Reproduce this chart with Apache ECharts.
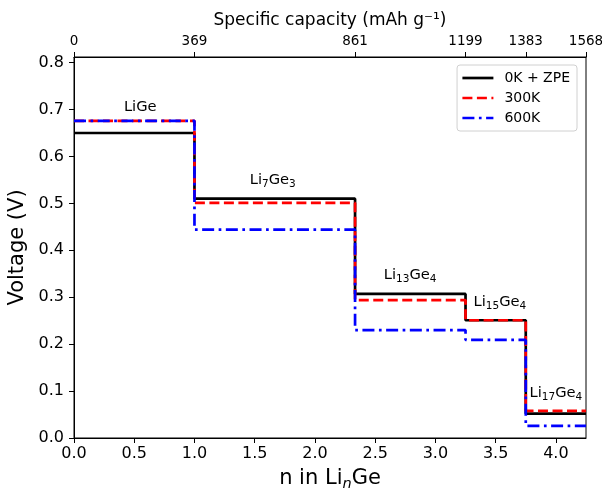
<!DOCTYPE html>
<html><head><meta charset="utf-8">
<script src="https://cdn.jsdelivr.net/npm/echarts@6/dist/echarts.min.js"></script>
<style>html,body{margin:0;padding:0;background:#fff}#c{width:602px;height:489px}</style>
</head><body><div id="c"></div>
<script>
// Boundaries of n (x in Li_nGe)
const nBounds = [0, 1, 2.333, 3.25, 3.75, 4.25];
const phases = ['LiGe', 'Li7Ge3', 'Li13Ge4', 'Li15Ge4', 'Li17Ge4'];
const v0K = [0.650, 0.510, 0.307, 0.251, 0.052];
const v300K = [0.676, 0.501, 0.294, 0.251, 0.058];
const v600K = [0.676, 0.444, 0.230, 0.209, 0.026];
const capTicks = [0, 369, 861, 1199, 1383, 1568];
const xTicks = [0, 0.5, 1, 1.5, 2, 2.5, 3, 3.5, 4];
const yTicks = [0, 0.1, 0.2, 0.3, 0.4, 0.5, 0.6, 0.7, 0.8];
// label anchor positions (n, V) for phase names
const labelPos = [[0.55, 0.706], [1.65, 0.55], [2.79, 0.348], [3.535, 0.29], [4.0, 0.096]];
const labelRich = ['LiGe', 'Li{s|7}Ge{s|3}', 'Li{s|13}Ge{s|4}', 'Li{s|15}Ge{s|4}', 'Li{s|17}Ge{s|4}'];

function stepData(vals) {
  const d = [];
  for (let i = 0; i < vals.length; i++) d.push([nBounds[i], vals[i]]);
  d.push([nBounds[nBounds.length - 1], vals[vals.length - 1]]);
  return d;
}
const FONT = 'DejaVu Sans';
const TICKC = '#000';
const chart = echarts.init(document.getElementById('c'));
chart.setOption({
  animation: false,
  textStyle: {fontFamily: FONT},
  grid: {left: 74, right: 16, top: 57, bottom: 51, show: true, borderColor: '#000', borderWidth: 1,
    containLabel: false, outerBoundsMode: 'none'},
  legend: {
    right: 25, top: 65, orient: 'vertical', itemWidth: 31, itemHeight: 14, itemGap: 6,
    borderColor: '#d0d0d0', borderWidth: 1, borderRadius: 3, padding: [6, 7, 6, 4],
    itemStyle: {opacity: 0},
    lineStyle: {width: 2.7},
    textStyle: {fontFamily: FONT, fontSize: 14, color: '#000', padding: [0, 0, 0, 6]},
    data: [{name: '0K + ZPE'}, {name: '300K'}, {name: '600K'}]
  },
  xAxis: [{
    type: 'value', min: 0, max: 4.25, position: 'bottom',
    name: '{a|n in Li}{s|n}{a|Ge}', nameLocation: 'middle', nameGap: 27,
    nameTextStyle: {rich: {a: {fontSize: 21, color: '#000', fontFamily: FONT}, s: {fontSize: 14.5, fontStyle: 'italic', color: '#000', fontFamily: FONT, padding: [12, 0, 0, 0]}}},
    axisLine: {show: true, lineStyle: {color: '#000', width: 1}},
    axisTick: {show: true, length: 5, lineStyle: {color: '#000'}, customValues: xTicks},
    axisLabel: {color: TICKC, fontSize: 16, fontFamily: FONT, margin: 8, customValues: xTicks, formatter: v => v.toFixed(1)},
    splitLine: {show: false}
  }, {
    type: 'value', min: 0, max: 4.25, position: 'top',
    name: 'Specific capacity (mAh g\u207B\u00B9)', nameLocation: 'middle', nameGap: 26,
    nameTextStyle: {fontSize: 17, color: '#000', fontFamily: FONT},
    axisLine: {show: true, lineStyle: {color: '#000', width: 1}},
    axisTick: {show: true, length: 5, lineStyle: {color: '#000'}, customValues: nBounds},
    axisLabel: {color: TICKC, fontSize: 13.5, fontFamily: FONT, margin: 9, customValues: nBounds,
      formatter: v => { const i = nBounds.findIndex(b => Math.abs(b - v) < 1e-6); return i >= 0 ? String(capTicks[i]) : ''; }},
    splitLine: {show: false}
  }],
  yAxis: {
    type: 'value', min: 0, max: 0.812,
    name: 'Voltage (V)', nameLocation: 'middle', nameGap: 45,
    nameTextStyle: {fontSize: 21, color: '#000', fontFamily: FONT},
    axisLine: {show: true, lineStyle: {color: '#000', width: 1}},
    axisTick: {show: true, length: 5, lineStyle: {color: '#000'}, customValues: yTicks},
    axisLabel: {color: TICKC, fontSize: 16, fontFamily: FONT, margin: 10, customValues: yTicks, formatter: v => v.toFixed(1)},
    splitLine: {show: false}
  },
  series: [
    {name: '0K + ZPE', type: 'line', step: 'end', symbol: 'none', data: stepData(v0K), z: 3,
      lineStyle: {color: '#000', width: 2.7}, itemStyle: {color: '#000'}},
    {name: '300K', type: 'line', step: 'end', symbol: 'none', data: stepData(v300K), z: 4,
      lineStyle: {color: '#ff0000', width: 2.7, type: [10, 4.5]}, itemStyle: {color: '#ff0000'}},
    {name: '600K', type: 'line', step: 'end', symbol: 'none', data: stepData(v600K), z: 5,
      lineStyle: {color: '#0000ff', width: 2.7, type: [12, 4.5, 2.7, 4.5]}, itemStyle: {color: '#0000ff'}},
    {name: 'phases', type: 'scatter', symbolSize: 0, silent: true, z: 6,
      itemStyle: {color: '#000', opacity: 1},
      data: labelPos.map((p, i) => ({value: p, name: phases[i]})),
      label: {show: true, position: 'inside', formatter: p => labelRich[p.dataIndex],
        color: '#000', fontSize: 14.7, fontFamily: FONT, textBorderWidth: 0, textBorderColor: 'transparent',
        rich: {s: {fontSize: 10.5, color: '#000', fontFamily: FONT, textBorderWidth: 0, padding: [9, 0, 0, 0]}}}}
  ]
});
</script></body></html>
